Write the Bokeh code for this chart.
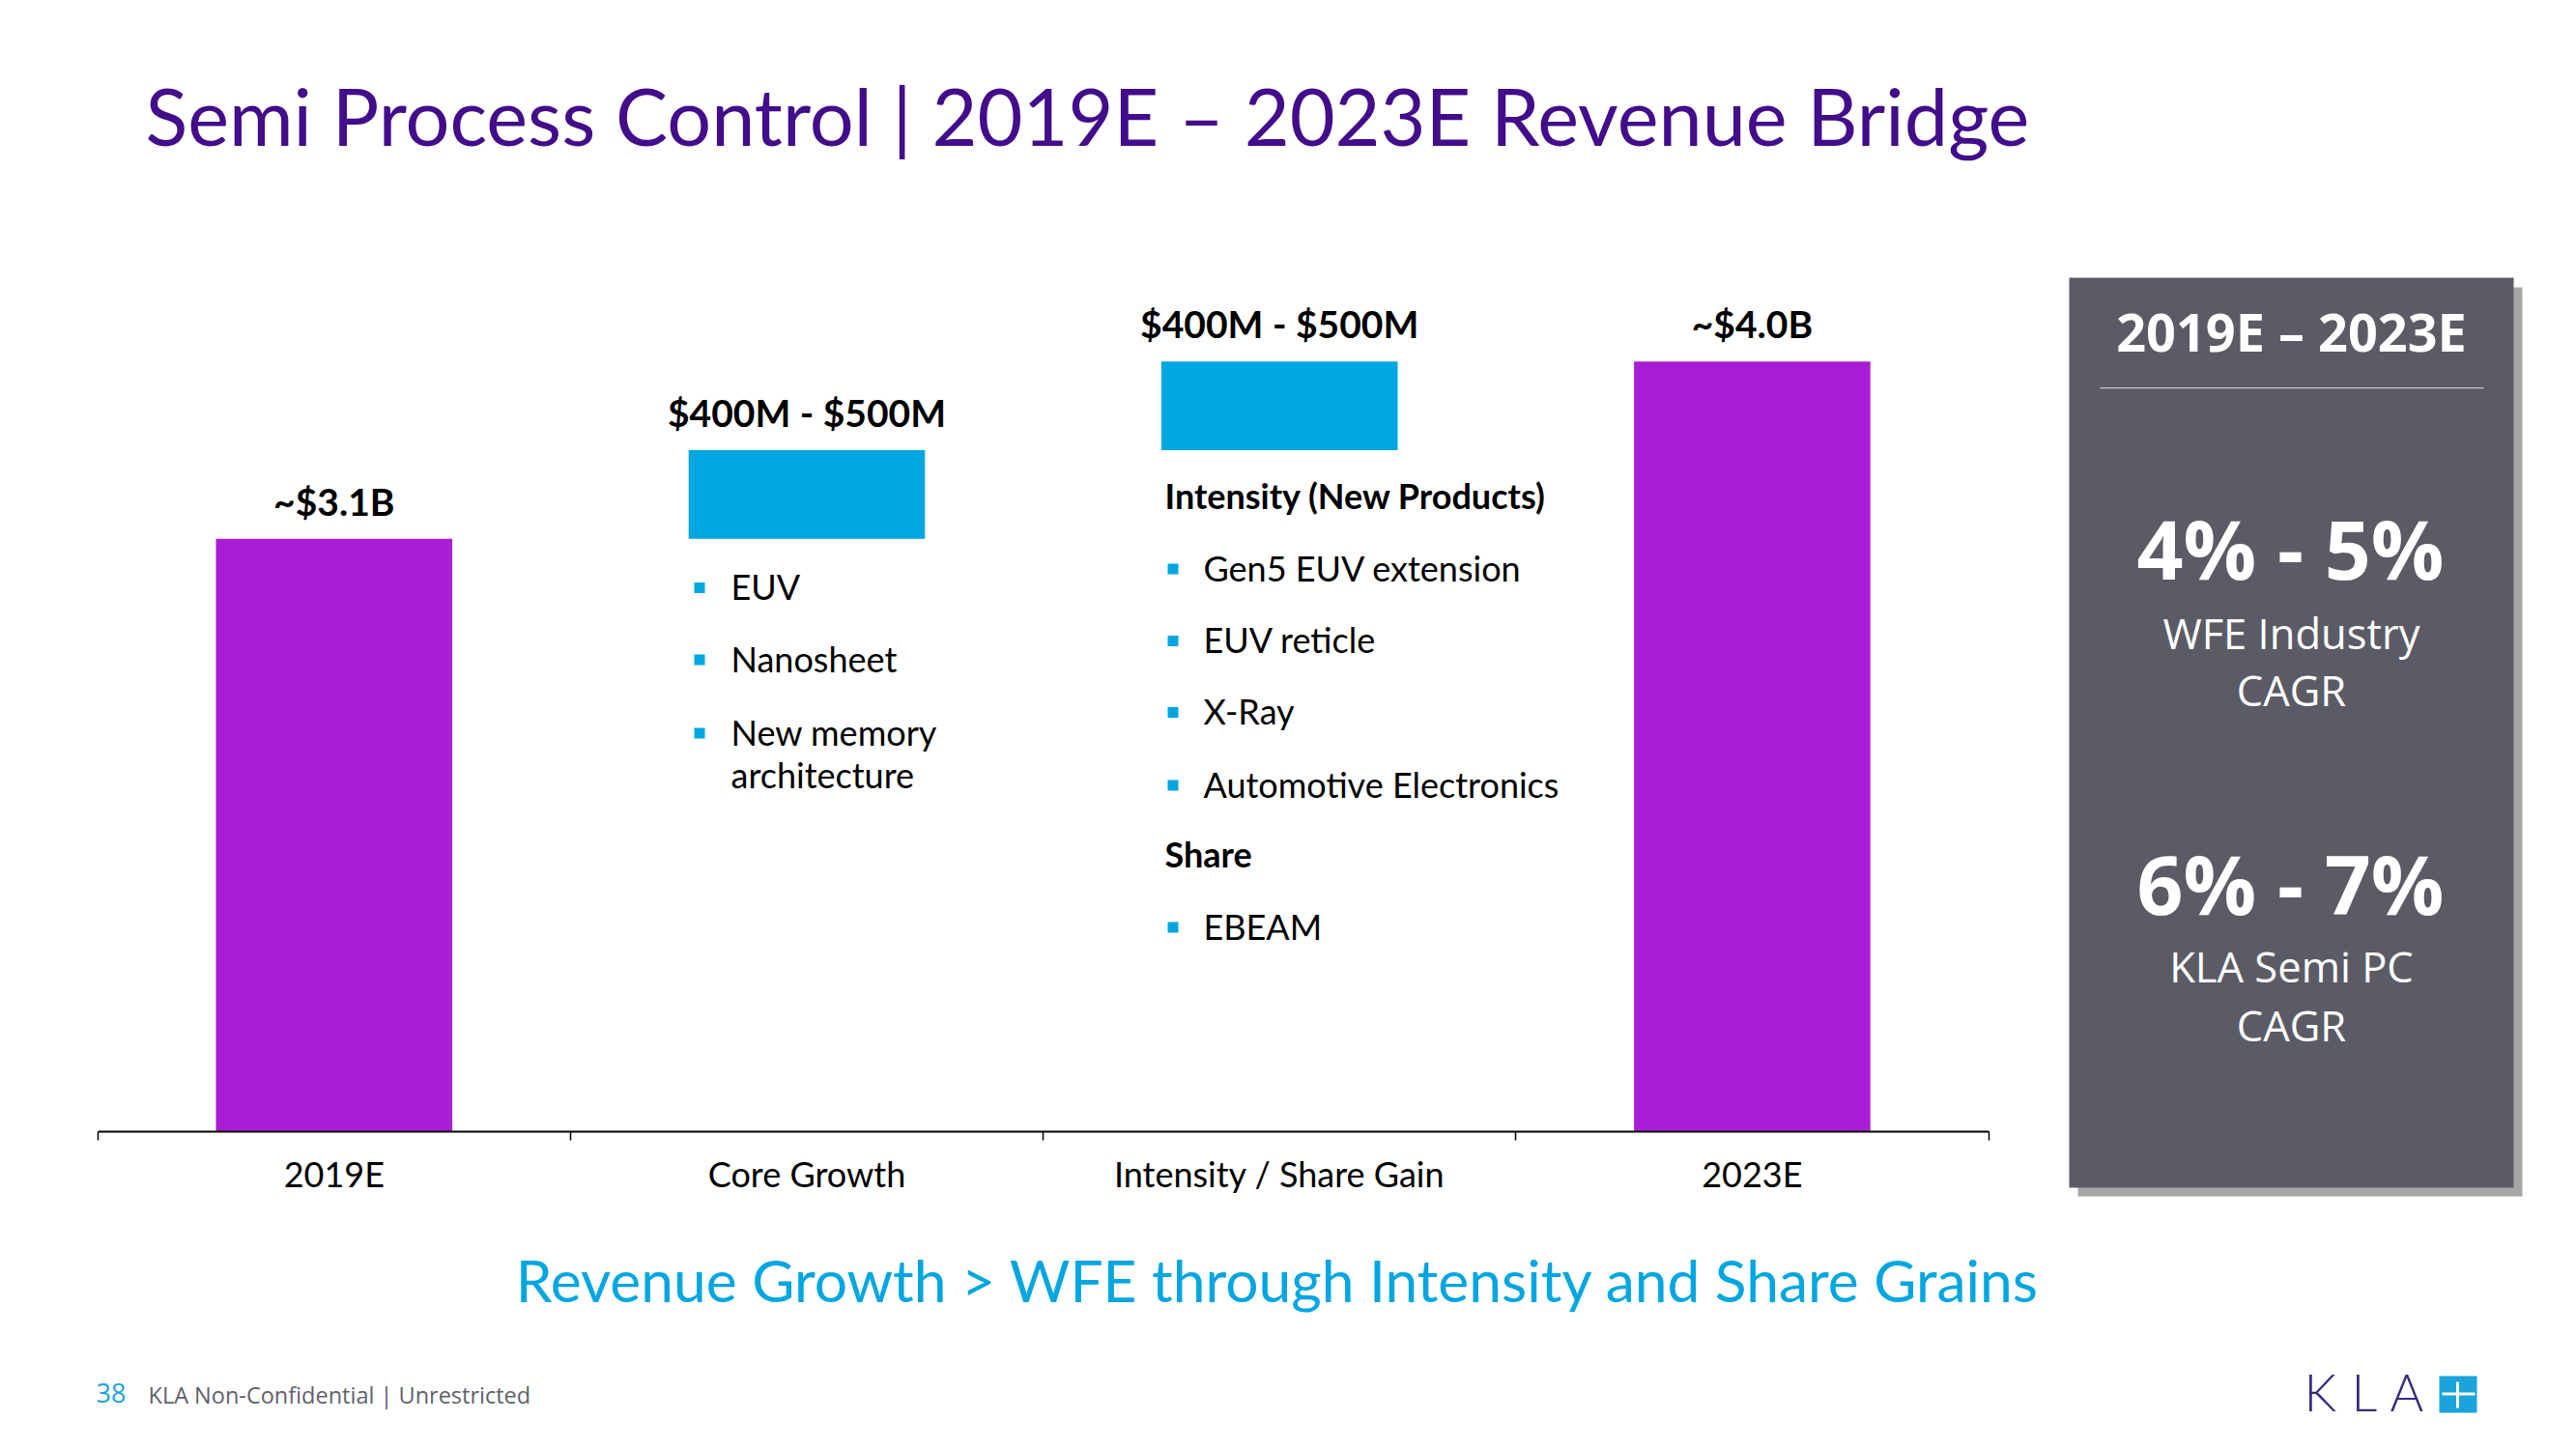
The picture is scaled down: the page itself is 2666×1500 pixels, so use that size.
from bokeh.plotting import figure
from bokeh.models import Label, BoxAnnotation, FixedTicker, Range1d, ColumnDataSource
from bokeh.layouts import column, row
from bokeh.embed import file_html
from bokeh.resources import INLINE
from bokeh.core.properties import value
import numpy as np

# ---------------- data ----------------
categories = ["2019E", "Core Growth", "Intensity / Share Gain", "2023E"]
start_value = 3.08          # $B, 2019E
increments = [0.46, 0.46]   # $B, Core Growth, Intensity / Share Gain
end_value = 4.0             # $B, 2023E
value_labels = ["~$3.1B", "$400M - $500M", "$400M - $500M", "~$4.0B"]
bar_colors = ["#A91ED4", "#00A6E0", "#00A6E0", "#A91ED4"]

core_bullets = ["EUV", "Nanosheet", "New memory", "architecture"]
intensity_header = "Intensity (New Products)"
intensity_bullets = ["Gen5 EUV extension", "EUV reticle", "X-Ray", "Automotive Electronics"]
share_header = "Share"
share_bullets = ["EBEAM"]

panel_period = "2019E – 2023E"
cagr_values = ["4% - 5%", "6% - 7%"]
cagr_names = [["WFE Industry", "CAGR"], ["KLA Semi PC", "CAGR"]]

title_text = "Semi Process Control | 2019E – 2023E Revenue Bridge"
subtitle_text = "Revenue Growth > WFE through Intensity and Share Grains"
page_number = "38"
footer_text = "KLA Non-Confidential | Unrestricted"

# ---------------- layout constants ----------------
W, H = 2650, 1484
CHART_W, TOP_H = 2136, 1262
AXIS_Y = 1171            # page y of the axis line
PX_PER_UNIT = 489.2
X0 = 100.7               # page x of x = 0
x_start = -X0 / PX_PER_UNIT
x_end = 4 + (CHART_W - (X0 + 4 * PX_PER_UNIT)) / PX_PER_UNIT
y_end = AXIS_Y / 199.3
K = 0.41                 # baseline correction (fraction of font size)

PURPLE_T = "#420C8A"
BLUE = "#00A6E0"


def make_fig(w, h, **kw):
    f = figure(width=w, height=h, output_backend="svg", toolbar_location=None,
               min_border=0, outline_line_color=None,
               background_fill_color="white", border_fill_color="white", **kw)
    f.grid.visible = False
    return f


def lab(f, org, text, px, py, size, color="#000000", font="Lato", style="normal",
        align="left"):
    ox, oy = org
    f.add_layout(Label(x=px - ox, y=oy - py + K * size, x_units="screen", y_units="screen",
                       text=text, text_font=font, text_font_size=f"{size}px",
                       text_color=color, text_font_style=style,
                       text_align=align, text_baseline="alphabetic"))


def box(f, org, l, r, t, b, color):
    ox, oy = org
    f.add_layout(BoxAnnotation(left=l - ox, right=r - ox, top=oy - t, bottom=oy - b,
                               left_units="screen", right_units="screen",
                               top_units="screen", bottom_units="screen",
                               fill_color=color, fill_alpha=1.0, line_color=None))


# ---------------- chart ----------------
xs = np.arange(len(categories)) + 0.5
cum = np.cumsum([start_value] + increments)
bottoms = [0.0, cum[0], cum[1], 0.0]
tops = [cum[0], cum[1], cum[2], end_value]
src = ColumnDataSource(dict(x=xs, bottom=bottoms, top=tops, color=bar_colors, label=value_labels))

p = make_fig(CHART_W, TOP_H, x_range=Range1d(x_start, x_end), y_range=Range1d(0, y_end),
             y_axis_location=None, min_border_bottom=TOP_H - AXIS_Y)
P_ORG = (0, AXIS_Y)

p.vbar(x="x", bottom="bottom", top="top", width=0.5, fill_color="color",
       line_color=None, source=src)
p.text(x="x", y="top", text="label", source=src, y_offset=-(23 + K * 39),
       text_font=value("Lato"), text_font_style="bold", text_font_size="39px",
       text_align="center", text_baseline="alphabetic", text_color="#000000")

ax = p.xaxis[0]
ax.ticker = FixedTicker(ticks=list(xs), minor_ticks=list(range(len(categories) + 1)))
ax.major_label_overrides = {float(x): c for x, c in zip(xs, categories)}
ax.bounds = (0, len(categories))
ax.axis_line_width = 2
ax.axis_line_color = "#000000"
ax.major_tick_line_color = None
ax.major_tick_out = 0
ax.major_tick_in = 0
ax.minor_tick_line_color = "#000000"
ax.minor_tick_line_width = 1.5
ax.minor_tick_out = 9
ax.minor_tick_in = 0
ax.major_label_standoff = 12
ax.major_label_text_font = "Lato"
ax.major_label_text_font_size = "36px"
ax.major_label_text_color = "#000000"

lab(p, P_ORG, title_text, 150, 152, 81, PURPLE_T)

core_y = [621.5, 696, 772, 816.5]
for i, (t, y) in enumerate(zip(core_bullets, core_y)):
    if i < 3:
        box(p, P_ORG, 718, 729, y - 19, y - 8, BLUE)
    lab(p, P_ORG, t, 756, y, 36)

lab(p, P_ORG, intensity_header, 1205, 527.5, 36, style="bold")
int_y = [602, 676.5, 750.5, 826]
for t, y in zip(intensity_bullets, int_y):
    box(p, P_ORG, 1208, 1219, y - 19, y - 8, BLUE)
    lab(p, P_ORG, t, 1245, y, 36)
lab(p, P_ORG, share_header, 1205, 898.5, 36, style="bold")
for t, y in zip(share_bullets, [973]):
    box(p, P_ORG, 1208, 1219, y - 19, y - 8, BLUE)
    lab(p, P_ORG, t, 1245, y, 36)

# ---------------- bottom-left strip ----------------
b = make_fig(CHART_W, H - TOP_H, x_range=Range1d(0, 1), y_range=Range1d(0, 1),
             x_axis_location=None, y_axis_location=None)
B_ORG = (0, H)
lab(b, B_ORG, subtitle_text, 1322, 1349, 60.5, BLUE, align="center")
lab(b, B_ORG, page_number, 99, 1453, 27, "#1AA3DB", "Open Sans")
lab(b, B_ORG, footer_text, 153, 1453, 23.5, "#5F5F6B", "Open Sans")

# ---------------- right column: panel + logo ----------------
q = make_fig(W - CHART_W, H, x_range=Range1d(0, 1), y_range=Range1d(0, 1),
             x_axis_location=None, y_axis_location=None)
Q_ORG = (CHART_W, H)
box(q, Q_ORG, 2150, 2610, 297, 1238, "#A6A6A6")
box(q, Q_ORG, 2141, 2601, 287, 1229, "#5B5B66")
box(q, Q_ORG, 2173, 2570, 400.5, 401.7, "#C9C9CF")
lab(q, Q_ORG, panel_period, 2371, 365, 54, "#FFFFFF", "Open Sans", "bold", "center")
val_y = [601, 948]
name_y = [[673, 732], [1018, 1079]]
for v, names, vy, ny in zip(cagr_values, cagr_names, val_y, name_y):
    lab(q, Q_ORG, v, 2370, vy, 84, "#FFFFFF", "Open Sans", "bold", "center")
    for n, y in zip(names, ny):
        lab(q, Q_ORG, n, 2371, y, 43.5, "#FFFFFF", "Open Sans", "normal", "center")

LOGO = "#3B2A7C"
for ch, x in zip("KLA", [2384, 2433, 2473]):
    lab(q, Q_ORG, ch, x, 1462, 53, LOGO, "Lato Light, Lato")
box(q, Q_ORG, 2524, 2563, 1424, 1462, "#1BA3DB")
box(q, Q_ORG, 2527, 2561, 1441, 1444, "#FFFFFF")
box(q, Q_ORG, 2541.5, 2544.5, 1430, 1457, "#FFFFFF")

layout = row(column(p, b, spacing=0), q, spacing=0)
open("out.html", "w").write(file_html(layout, INLINE))
